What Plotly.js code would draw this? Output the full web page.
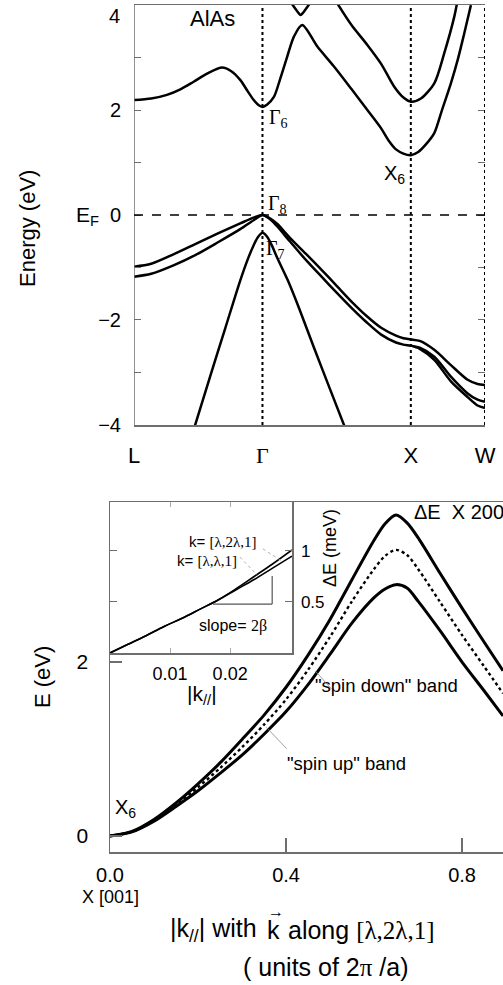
<!DOCTYPE html>
<html>
<head>
<meta charset="utf-8">
<script src="https://cdn.plot.ly/plotly-3.0.1.min.js"></script>
<style>html,body{margin:0;padding:0;background:#fff;}#chart{width:503px;height:985px;}</style>
</head>
<body>
<div id="chart"></div>
<script>
// ---------------- Top panel: AlAs band structure along L-Γ-X-W ----------------
const pathTicks  = [-0.866, 0, 1, 1.5];
const pathLabels = ['L', '<span style="font-family:Liberation Serif">Γ</span>', 'X', 'W'];

const c1X = [-0.866,-0.75,-0.644,-0.55,-0.464,-0.37,-0.272,-0.21,-0.149,-0.10,-0.059,-0.025,0,0.03,0.077,0.12,0.167,0.212,0.268,0.37,0.482,0.6,0.707,0.8,0.85,0.9,0.95,1.0,1.05,1.1,1.158,1.21,1.27,1.32,1.36,1.405];
const c1E = [2.19,2.22,2.29,2.40,2.54,2.70,2.81,2.74,2.57,2.36,2.19,2.09,2.06,2.10,2.25,2.60,3.02,3.40,3.62,3.21,2.83,2.40,2.00,1.65,1.42,1.25,1.17,1.14,1.20,1.34,1.56,2.00,2.51,3.00,3.46,4.0];

const c2X = [0.505,0.6,0.707,0.8,0.887,0.95,1.0,1.068,1.158,1.225,1.293,1.311];
const c2E = [4.03,3.62,3.24,2.88,2.45,2.24,2.16,2.22,2.51,3.08,3.78,4.03];

const c3X = [0.18,0.24,0.257,0.275,0.335];
const c3E = [4.10,3.86,3.81,3.86,4.10];

const v1X = [-0.866,-0.75,-0.6,-0.45,-0.3,-0.15,-0.06,0,0.06,0.1,0.19,0.3,0.4,0.5,0.6,0.7,0.8,0.9,0.95,1.0,1.06,1.158,1.27,1.383,1.45,1.5];
const v1E = [-0.985,-0.93,-0.75,-0.55,-0.35,-0.16,-0.05,0,-0.08,-0.17,-0.45,-0.76,-1.05,-1.35,-1.65,-1.92,-2.15,-2.30,-2.35,-2.37,-2.40,-2.57,-2.86,-3.14,-3.22,-3.24];

const v2X = [-0.866,-0.75,-0.6,-0.45,-0.3,-0.15,-0.05,0,0.06,0.1,0.19,0.3,0.4,0.5,0.6,0.7,0.8,0.9,0.95,1.0,1.06,1.158,1.27,1.383,1.45,1.5];
const v2E = [-1.175,-1.12,-0.96,-0.76,-0.52,-0.27,-0.08,0,-0.10,-0.22,-0.52,-0.88,-1.18,-1.48,-1.77,-2.04,-2.28,-2.43,-2.47,-2.49,-2.53,-2.70,-3.08,-3.40,-3.52,-3.56];

const v3X = [1.0,1.06,1.158,1.27,1.383,1.45,1.5];
const v3E = [-2.49,-2.55,-2.76,-3.17,-3.47,-3.63,-3.68];

const soX = [-0.47,-0.35,-0.25,-0.15,-0.10,-0.06,-0.03,0,0.03,0.06,0.10,0.17,0.25,0.35,0.45,0.57];
const soE = [-4.15,-3.05,-2.15,-1.25,-0.85,-0.58,-0.42,-0.34,-0.41,-0.56,-0.82,-1.24,-1.80,-2.55,-3.28,-4.15];

const topYTicks = [-4,-3,-2,-1,0,1,2,3,4];
const topYText  = ['−4','','−2','','0','','2','',''];

// ---------------- Bottom panel: lowest conduction band near X ----------------
const kPar   = [0,0.05,0.1,0.15,0.2,0.25,0.3,0.35,0.4,0.45,0.5,0.55,0.6,0.625,0.65,0.675,0.7,0.75,0.8,0.85,0.893];
const eUpper = [0,0.053,0.19,0.38,0.60,0.84,1.11,1.39,1.71,2.08,2.49,2.95,3.40,3.59,3.69,3.60,3.43,3.02,2.62,2.23,1.90];
const eMid   = [0,0.05,0.18,0.36,0.56,0.78,1.02,1.28,1.57,1.91,2.29,2.70,3.07,3.22,3.29,3.23,3.07,2.69,2.31,1.95,1.64];
const eLower = [0,0.047,0.17,0.34,0.52,0.72,0.93,1.17,1.43,1.74,2.09,2.45,2.74,2.84,2.89,2.85,2.70,2.36,2.00,1.67,1.38];
const botXTicks = [0,0.4,0.8];
const botXText  = ['0.0','0.4','0.8'];
const botYTicks = [0,2];

// ---------------- Inset: splitting ΔE vs |k//| ----------------
const kIn     = [0,0.003,0.006,0.009,0.012,0.015,0.018,0.021,0.024,0.027,0.0303];
const dE121   = [0,0.085,0.17,0.26,0.34,0.43,0.52,0.63,0.75,0.87,1.01];
const dE111   = [0,0.085,0.17,0.26,0.34,0.43,0.52,0.62,0.72,0.83,0.95];
const inXTicks = [0.01,0.02];
const inYTicks = [0.5,1];

const W = 503, H = 985;
const SANS = 'Liberation Sans, Arial, sans-serif';
const SERIF = 'Liberation Serif, Times New Roman, serif';
const FRAME = '#6e6e6e';

function band(x, y, xa, ya, extra) {
  return Object.assign({x: x, y: y, xaxis: xa, yaxis: ya, type: 'scatter', mode: 'lines',
    line: {color: '#000', width: 2.5, shape: 'spline', smoothing: 0.8}, hoverinfo: 'skip', showlegend: false}, extra || {});
}

const data = [
  band(c1X, c1E, 'x', 'y'),
  band(c2X, c2E, 'x', 'y'),
  band(c3X, c3E, 'x', 'y'),
  band(v1X, v1E, 'x', 'y'),
  band(v2X, v2E, 'x', 'y'),
  band(v3X, v3E, 'x', 'y'),
  band(soX, soE, 'x', 'y'),
  band(kPar, eUpper, 'x2', 'y2', {line: {color: '#000', width: 3, shape: 'spline', smoothing: 0.8}}),
  band(kPar, eMid, 'x2', 'y2', {line: {color: '#000', width: 2.4, dash: 'dot', shape: 'spline', smoothing: 0.8}}),
  band(kPar, eLower, 'x2', 'y2', {line: {color: '#000', width: 3, shape: 'spline', smoothing: 0.8}}),
  band(kIn, dE121, 'x3', 'y3', {line: {color: '#000', width: 1.6, shape: 'spline'}}),
  band(kIn, dE111, 'x3', 'y3', {line: {color: '#000', width: 1.6, shape: 'spline'}})
];

function P(px, py) { return {x: px / W, y: 1 - py / H}; }
function ann(text, px, py, size, opt) {
  const p = P(px, py);
  return Object.assign({text: text, x: p.x, y: p.y, xref: 'paper', yref: 'paper', showarrow: false,
    xanchor: 'center', yanchor: 'middle', font: {family: SANS, size: size, color: '#000'}}, opt || {});
}
const serifSpan = s => '<span style="font-family:Liberation Serif">' + s + '</span>';
const serifFont = size => ({font: {family: SERIF, size: size, color: '#000'}});

const annotations = [
  ann('4', 114, 16, 20),
  ann('AlAs', 212, 18, 22),
  ann('Γ<sub>6</sub>', 278, 118, 20, serifFont(20)),
  ann('X<sub>6</sub>', 394, 174, 20),
  ann('Γ<sub>8</sub>', 277, 204, 20, serifFont(20)),
  ann('Γ<sub>7</sub>', 275, 249, 20, serifFont(20)),
  ann('E<sub>F</sub>', 87, 216, 21),
  ann('Energy (eV)', 28, 229, 22, {textangle: -90}),
  ann('k= ' + serifSpan('[λ,2λ,1]'), 222, 541, 15),
  ann('k= ' + serifSpan('[λ,λ,1]'), 207, 560, 15),
  ann('slope= ' + serifSpan('2β'), 233, 626, 16),
  ann('|k<sub>//</sub>|', 202, 695, 21),
  ann('ΔE (meV)', 330, 548, 18, {textangle: -90}),
  ann('ΔE\u00a0 X 200', 459, 512, 20),
  ann('"spin down" band', 386, 685, 18.5),
  ann('"spin up" band', 346, 763, 18.5),
  ann('X<sub>6</sub>', 125, 808, 20),
  ann('X [001]', 110, 897, 18),
  ann('E (eV)', 42, 677, 22, {textangle: -90}),
  ann('|k<sub>//</sub>| with', 259, 930, 25, {xanchor: 'right'}),
  ann('k', 273, 930, 25),
  ann('→', 276, 911, 16),
  ann('along ' + serifSpan('[λ,2λ,1]'), 286, 930, 25, {xanchor: 'left'}),
  ann('( units of 2' + serifSpan('π') + ' /a)', 325, 967, 25),
  {x: 0.466, y: 1.9, xref: 'x2', yref: 'y2', text: '', showarrow: true, arrowhead: 0, arrowwidth: 0.8,
   arrowcolor: '#888', ax: 18, ay: 20},
  {x: 0.355, y: 1.25, xref: 'x2', yref: 'y2', text: '', showarrow: true, arrowhead: 0, arrowwidth: 0.8,
   arrowcolor: '#888', ax: 22, ay: 23}
];

const shapes = [
  {type: 'line', xref: 'x', yref: 'y', x0: -0.866, x1: -0.866, y0: -4, y1: 4, line: {color: FRAME, width: 1.5}},
  {type: 'line', xref: 'x', yref: 'y', x0: 0, x1: 0, y0: -4, y1: 4, line: {color: '#000', width: 2, dash: 'dot'}},
  {type: 'line', xref: 'x', yref: 'y', x0: 1, x1: 1, y0: -4, y1: 4, line: {color: '#000', width: 2, dash: 'dot'}},
  {type: 'line', xref: 'x', yref: 'y', x0: 1.5, x1: 1.5, y0: -4, y1: 4, line: {color: '#000', width: 2, dash: 'dot'}},
  {type: 'line', xref: 'x', yref: 'y', x0: -0.866, x1: 1.5, y0: 0, y1: 0, line: {color: '#000', width: 1.5, dash: 'dash'}},
  {type: 'line', xref: 'x3', yref: 'y3', x0: 0.01715, x1: 0.0270, y0: 0.48, y1: 0.48, line: {color: '#555', width: 1.2}},
  {type: 'line', xref: 'x3', yref: 'y3', x0: 0.0270, x1: 0.0270, y0: 0.48, y1: 0.755, line: {color: '#555', width: 1.2}},
  {type: 'line', xref: 'x3', yref: 'y3', x0: 0.02547, x1: 0.02864, y0: 1.02, y1: 0.90, line: {color: '#999', width: 0.8, dash: 'dot'}},
  {type: 'line', xref: 'x3', yref: 'y3', x0: 0.02164, x1: 0.02464, y0: 0.94, y1: 0.755, line: {color: '#999', width: 0.8, dash: 'dot'}}
];

const layout = {
  width: W, height: H,
  margin: {l: 0, r: 0, t: 0, b: 0},
  paper_bgcolor: '#fff', plot_bgcolor: 'rgba(0,0,0,0)',
  showlegend: false,
  xaxis: {domain: [134 / W, 485 / W], range: [-0.866, 1.5], anchor: 'y',
    showline: true, mirror: true, linecolor: FRAME, linewidth: 1.5, showgrid: false, zeroline: false,
    tickmode: 'array', tickvals: pathTicks, ticktext: pathLabels, ticks: '', ticklabelstandoff: 10,
    tickfont: {family: SANS, size: 22, color: '#000'}},
  yaxis: {domain: [1 - 425 / H, 1 - 5 / H], range: [-4.002, 4.002], anchor: 'x',
    showline: false, mirror: 'ticks', showgrid: false, zeroline: false,
    tickmode: 'array', tickvals: topYTicks, ticktext: topYText, ticks: 'inside', ticklen: 7, tickwidth: 1,
    tickcolor: FRAME, ticklabelstandoff: 12, tickfont: {family: SANS, size: 20, color: '#000'}},
  xaxis2: {domain: [110 / W, 1], range: [0, 0.893], anchor: 'y2',
    showline: true, mirror: true, linecolor: FRAME, linewidth: 1.5, showgrid: false, zeroline: false,
    tickmode: 'array', tickvals: botXTicks, ticktext: botXText, ticks: 'inside', ticklen: 14, tickwidth: 1.5,
    tickcolor: FRAME, ticklabelstandoff: 4, tickfont: {family: SANS, size: 20, color: '#000'}},
  yaxis2: {domain: [1 - 852 / H, 1 - 502 / H], range: [-0.184, 3.84], anchor: 'x2',
    showline: true, linecolor: FRAME, linewidth: 1.5, showgrid: false, zeroline: false,
    tickmode: 'array', tickvals: botYTicks, ticks: 'inside', ticklen: 12, tickwidth: 1.5, tickcolor: FRAME,
    ticklabelstandoff: 16, tickfont: {family: SANS, size: 21, color: '#000'}},
  xaxis3: {domain: [110 / W, 292 / W], range: [0, 0.0303], anchor: 'y3',
    showline: true, mirror: 'ticks', linecolor: FRAME, linewidth: 1.5, showgrid: false, zeroline: false,
    tickmode: 'array', tickvals: inXTicks, ticktext: ['0.01', '0.02'], ticks: 'inside', ticklen: 5, tickcolor: '#aaa',
    ticklabelstandoff: 4, tickfont: {family: SANS, size: 18, color: '#000'}},
  yaxis3: {domain: [1 - 653 / H, 1 - 502 / H], range: [0, 1.48], anchor: 'x3', side: 'right',
    showline: true, mirror: 'ticks', linecolor: FRAME, linewidth: 1.5, showgrid: false, zeroline: false,
    tickmode: 'array', tickvals: inYTicks, ticktext: ['0.5', '1'], ticks: 'inside', ticklen: 7, tickcolor: FRAME,
    ticklabelstandoff: 4, tickfont: {family: SANS, size: 17, color: '#000'}},
  shapes: shapes,
  annotations: annotations
};

Plotly.newPlot('chart', data, layout, {staticPlot: true, displayModeBar: false});
</script>
</body>
</html>
